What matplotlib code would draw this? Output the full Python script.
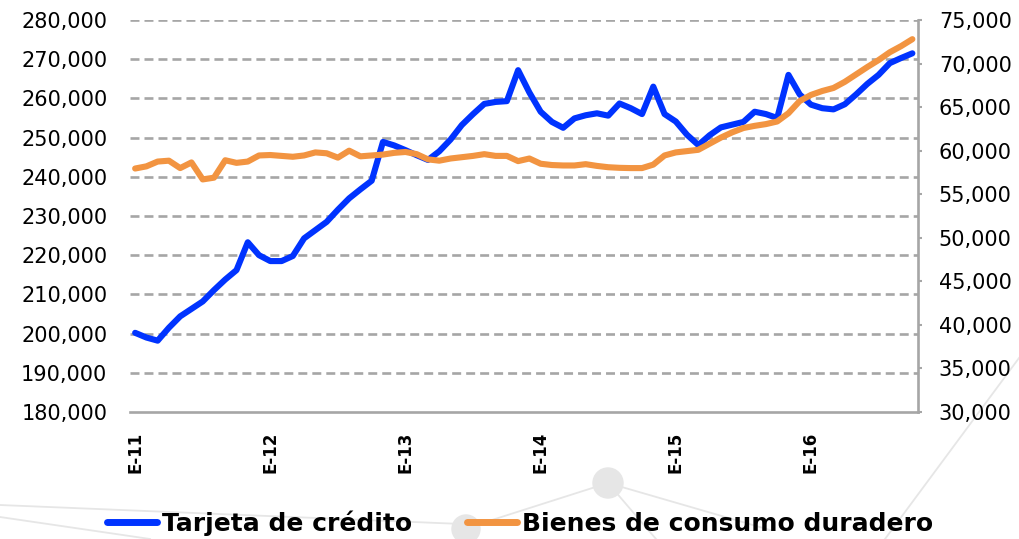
import matplotlib
matplotlib.use("Agg")
import matplotlib.pyplot as plt
from matplotlib.lines import Line2D
from matplotlib.patches import Ellipse
from matplotlib.ticker import FuncFormatter, MultipleLocator

# ---------------- data (monthly, Jan-2011 .. Oct-2016) ----------------
tick_labels = ["E-11", "E-12", "E-13", "E-14", "E-15", "E-16"]
tick_pos = [0, 12, 24, 36, 48, 60]

tarjeta = [
    200200, 199000, 198200, 201500, 204400, 206300, 208200, 211100, 213800, 216200,
    223300, 220000, 218500, 218500, 219800, 224300, 226400, 228500, 231600, 234500,
    236800, 239000, 248900, 248000, 246800, 245500, 244300, 246500, 249500, 253200,
    256000, 258600, 259100, 259300, 267200, 261500, 256600, 254000, 252500, 254900,
    255700, 256200, 255600, 258700, 257500, 256000, 263000, 256000, 254100, 250700,
    248100, 250600, 252600, 253300, 254000, 256600, 256000, 255000, 266000, 261000,
    258400, 257500, 257200, 258500, 261000, 263700, 266000, 269000, 270300, 271500,
]

bienes = [
    57950, 58200, 58750, 58850, 58000, 58650, 56700, 56900, 58900, 58600,
    58750, 59450, 59500, 59400, 59300, 59450, 59800, 59700, 59200, 60000,
    59350, 59450, 59550, 59750, 59850, 59600, 59000, 58850, 59100, 59250,
    59400, 59600, 59400, 59400, 58800, 59100, 58500, 58350, 58300, 58300,
    58450, 58250, 58100, 58030, 58000, 58000, 58400, 59450, 59800, 59950,
    60100, 60800, 61500, 62100, 62600, 62850, 63050, 63350, 64300, 65700,
    66400, 66850, 67200, 67900, 68750, 69600, 70400, 71300, 72000, 72800,
]

series_names = ["Tarjeta de crédito", "Bienes de consumo duradero"]
colors = ["#0033FF", "#F29441"]

# ---------------- figure ----------------
W, H = 1019, 539
fig = plt.figure(figsize=(W / 100, H / 100), dpi=100)
fig.patch.set_facecolor("white")

def px(x, y):
    return (x / W, 1 - y / H)

deco = "#E6E6E6"
for (x0, y0), (x1, y1) in [((1019, 358), (885, 539)),
                           ((0, 505), (462, 524)),
                           ((0, 517), (150, 539)),
                           ((608, 483), (470, 527)),
                           ((608, 483), (770, 530)),
                           ((608, 483), (656, 539))]:
    a, b = px(x0, y0), px(x1, y1)
    fig.add_artist(Line2D([a[0], b[0]], [a[1], b[1]], color=deco, lw=1.3, zorder=0))
for (cx, cy, r) in [(608, 483, 15), (466, 529, 14)]:
    c = px(cx, cy)
    fig.add_artist(Ellipse(c, 2 * r / W, 2 * r / H, color=deco, zorder=0))

ax = fig.add_axes([129.5 / W, 1 - 412 / H, (918 - 129.5) / W, 392 / H])
ax.patch.set_alpha(0)
ax2 = ax.twinx()
ax2.patch.set_alpha(0)

x = list(range(len(tarjeta)))
l1, = ax.plot(x, tarjeta, color=colors[0], lw=4.4, solid_joinstyle="round",
              solid_capstyle="round", zorder=3)
l2, = ax2.plot(x, bienes, color=colors[1], lw=4.4, solid_joinstyle="round",
               solid_capstyle="round", zorder=3)

ax.set_xlim(-0.5, len(tarjeta) - 0.5)
ax.set_ylim(180000, 280000)
ax2.set_ylim(30000, 75000)
ax.yaxis.set_major_locator(MultipleLocator(10000))
ax2.yaxis.set_major_locator(MultipleLocator(5000))
fmt = FuncFormatter(lambda v, p: f"{int(v):,}")
ax.yaxis.set_major_formatter(fmt)
ax2.yaxis.set_major_formatter(fmt)

grey = "#A6A6A6"
for yv in range(190000, 280001, 10000):
    ax.axhline(yv, color=grey, lw=1.9, linestyle=(0, (3.4, 1.9)), zorder=1)

for a in (ax, ax2):
    for s in ("top", "left"):
        a.spines[s].set_visible(False)
ax.spines["right"].set_visible(False)
ax2.spines["bottom"].set_visible(False)
ax.spines["bottom"].set_color(grey)
ax.spines["bottom"].set_linewidth(1.9)
ax2.spines["right"].set_color(grey)
ax2.spines["right"].set_linewidth(1.9)

ax.tick_params(axis="y", length=0, pad=16, labelsize=15, labelcolor="black")
ax2.tick_params(axis="y", length=3, width=1.5, color=grey, pad=12, labelsize=15,
                labelcolor="black")
ax.set_xticks(tick_pos)
ax.set_xticklabels(tick_labels, rotation=90, fontsize=12, fontweight="bold")
ax.tick_params(axis="x", length=0, pad=14)

leg = fig.legend([l1, l2], series_names, loc="center", bbox_to_anchor=(0.51, 0.029),
                 ncol=2, frameon=False, handlelength=2.0, handletextpad=0.2,
                 columnspacing=2.2, prop={"size": 18, "weight": "bold"})
for h in leg.legend_handles:
    h.set_linewidth(5)

fig.savefig("out.png", dpi=100, facecolor="white")
